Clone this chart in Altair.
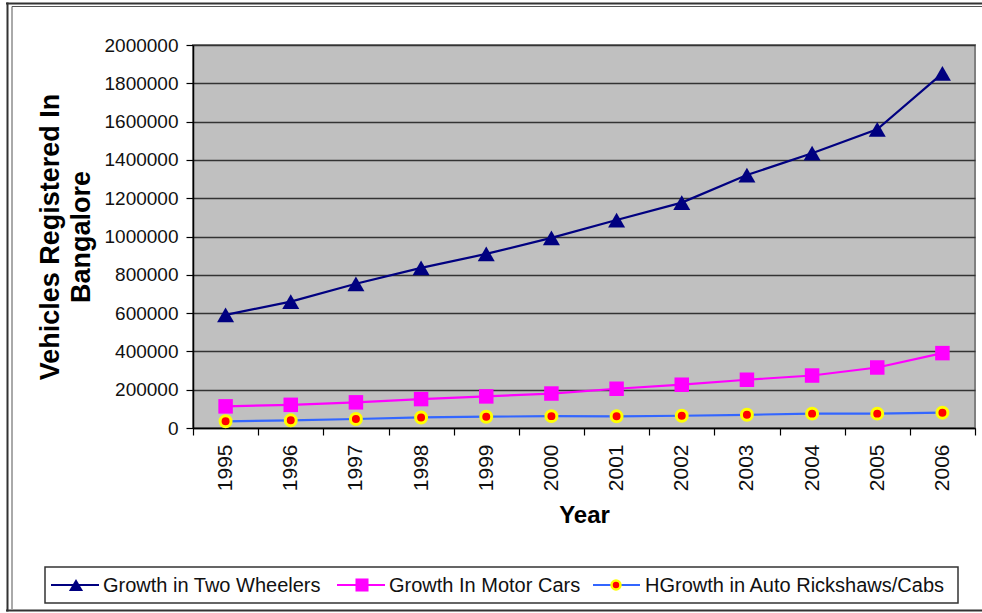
import altair as alt
import pandas as pd

years = [str(y) for y in range(1995, 2007)]
two_wheelers = [591000, 660000, 753000, 836000, 909000, 993000, 1086000, 1177000, 1321000, 1435000, 1560000, 1852000]
motor_cars = [113000, 121000, 134000, 151000, 165000, 180000, 205000, 226000, 252000, 274000, 316000, 391000]
auto_rickshaws = [35000, 40000, 47000, 55000, 59000, 62000, 61000, 64000, 69000, 75000, 75000, 80000]
series_names = ["Growth in Two Wheelers", "Growth In Motor Cars", "HGrowth in Auto Rickshaws/Cabs"]
y_ticks = list(range(0, 2000001, 200000))

FONT = "Liberation Sans"

def frame(vals):
    return pd.DataFrame({"year": years, "value": vals})

x_enc = alt.X(
    "year:O",
    scale=alt.Scale(type="band", paddingInner=0, paddingOuter=0),
    axis=alt.Axis(
        title="Year", labelAngle=270, tickBand="extent", grid=False,
        labelFontSize=21, labelColor="#111", labelPadding=9, labelFont=FONT,
        tickSize=7, tickColor="#000", tickWidth=1.2, domainColor="#000", domainWidth=1.5,
        titleFontSize=24, titleFont=FONT, titleFontWeight="bold", titleColor="#000", titlePadding=13,
    ),
)
y_enc = alt.Y(
    "value:Q",
    scale=alt.Scale(domain=[0, 2000000], nice=False),
    axis=alt.Axis(
        title=["Vehicles Registered In", "Bangalore"], values=y_ticks, format="d",
        labelFontSize=19, labelColor="#111", labelPadding=8, labelFont=FONT,
        tickSize=7, tickColor="#000", tickWidth=1.2, domainColor="#000", domainWidth=1.5,
        grid=True, gridColor="#333", gridWidth=1.5,
        titleFontSize=27, titleFont=FONT, titleFontWeight="bold", titleColor="#000",
        titlePadding=9, titleLineHeight=31,
    ),
)

def series_layers(vals, line_color, shape, size, fill, stroke=None, stroke_width=0):
    base = alt.Chart(frame(vals)).encode(x=x_enc, y=y_enc)
    line = base.mark_line(color=line_color, strokeWidth=2.2)
    pt_kwargs = dict(shape=shape, size=size, filled=True, fill=fill, opacity=1)
    if stroke:
        pt_kwargs.update(stroke=stroke, strokeWidth=stroke_width)
    pts = base.mark_point(**pt_kwargs)
    return [line, pts]

layers = []
layers += series_layers(two_wheelers, "#000080", "triangle-up", 290, "#000080")
layers += series_layers(motor_cars, "#FF00FF", "square", 210, "#FF00FF")
layers += series_layers(auto_rickshaws, "#3366FF", "circle", 120, "#FF0000", "#FFFF00", 3)

one = pd.DataFrame({"k": [0]})

# outer double frame (top, left, bottom only; right edge lies outside the picture)
def hrule(x1, x2, y, w, c):
    return alt.Chart(one).mark_rule(color=c, strokeWidth=w).encode(
        x=alt.value(x1), x2=alt.value(x2), y=alt.value(y))

def vrule(x, y1, y2, w, c):
    return alt.Chart(one).mark_rule(color=c, strokeWidth=w).encode(
        x=alt.value(x), y=alt.value(y1), y2=alt.value(y2))

layers += [
    hrule(-187, 789, -41.5, 2, "#333"),
    hrule(-181, 789, -38.5, 1, "#555"),
    vrule(-185.5, -42.5, 566.5, 2, "#333"),
    vrule(-181, -38.5, 564, 1, "#555"),
    hrule(-187, 789, 565.5, 2, "#333"),
]

# legend
LY = 540
layers.append(alt.Chart(one).mark_rect(fill="white", stroke="#333", strokeWidth=1.5).encode(
    x=alt.value(-148), x2=alt.value(765), y=alt.value(522), y2=alt.value(558)))
leg = [
    (-142, -94, -117, -90, "#000080", "triangle-up", 200, "#000080", None),
    (144, 192, 169, 196, "#FF00FF", "square", 170, "#FF00FF", None),
    (400, 447, 423, 452, "#3366FF", "circle", 80, "#FF0000", "#FFFF00"),
]
for i, (lx1, lx2, sx, tx, lc, shp, sz, fc, sc) in enumerate(leg):
    layers.append(alt.Chart(one).mark_rule(color=lc, strokeWidth=2.2).encode(
        x=alt.value(lx1), x2=alt.value(lx2), y=alt.value(LY)))
    kw = dict(shape=shp, size=sz, filled=True, fill=fc, opacity=1)
    if sc:
        kw.update(stroke=sc, strokeWidth=2.5)
    layers.append(alt.Chart(one).mark_point(**kw).encode(x=alt.value(sx), y=alt.value(LY)))
    layers.append(alt.Chart(pd.DataFrame({"t": [series_names[i]]})).mark_text(
        align="left", baseline="middle", font=FONT, fontSize=20, color="#111").encode(
        x=alt.value(tx), y=alt.value(LY + 1), text="t:N"))

chart = alt.layer(*layers).properties(
    width=782, height=383,
    autosize=alt.AutoSizeParams(type="none"),
    padding={"left": 193, "top": 45, "right": 7, "bottom": 185},
    background="white",
).configure_view(fill="#C0C0C0", stroke="#808080", strokeWidth=2)

chart.save("out.html", embed_options={"renderer": "svg", "actions": False})
